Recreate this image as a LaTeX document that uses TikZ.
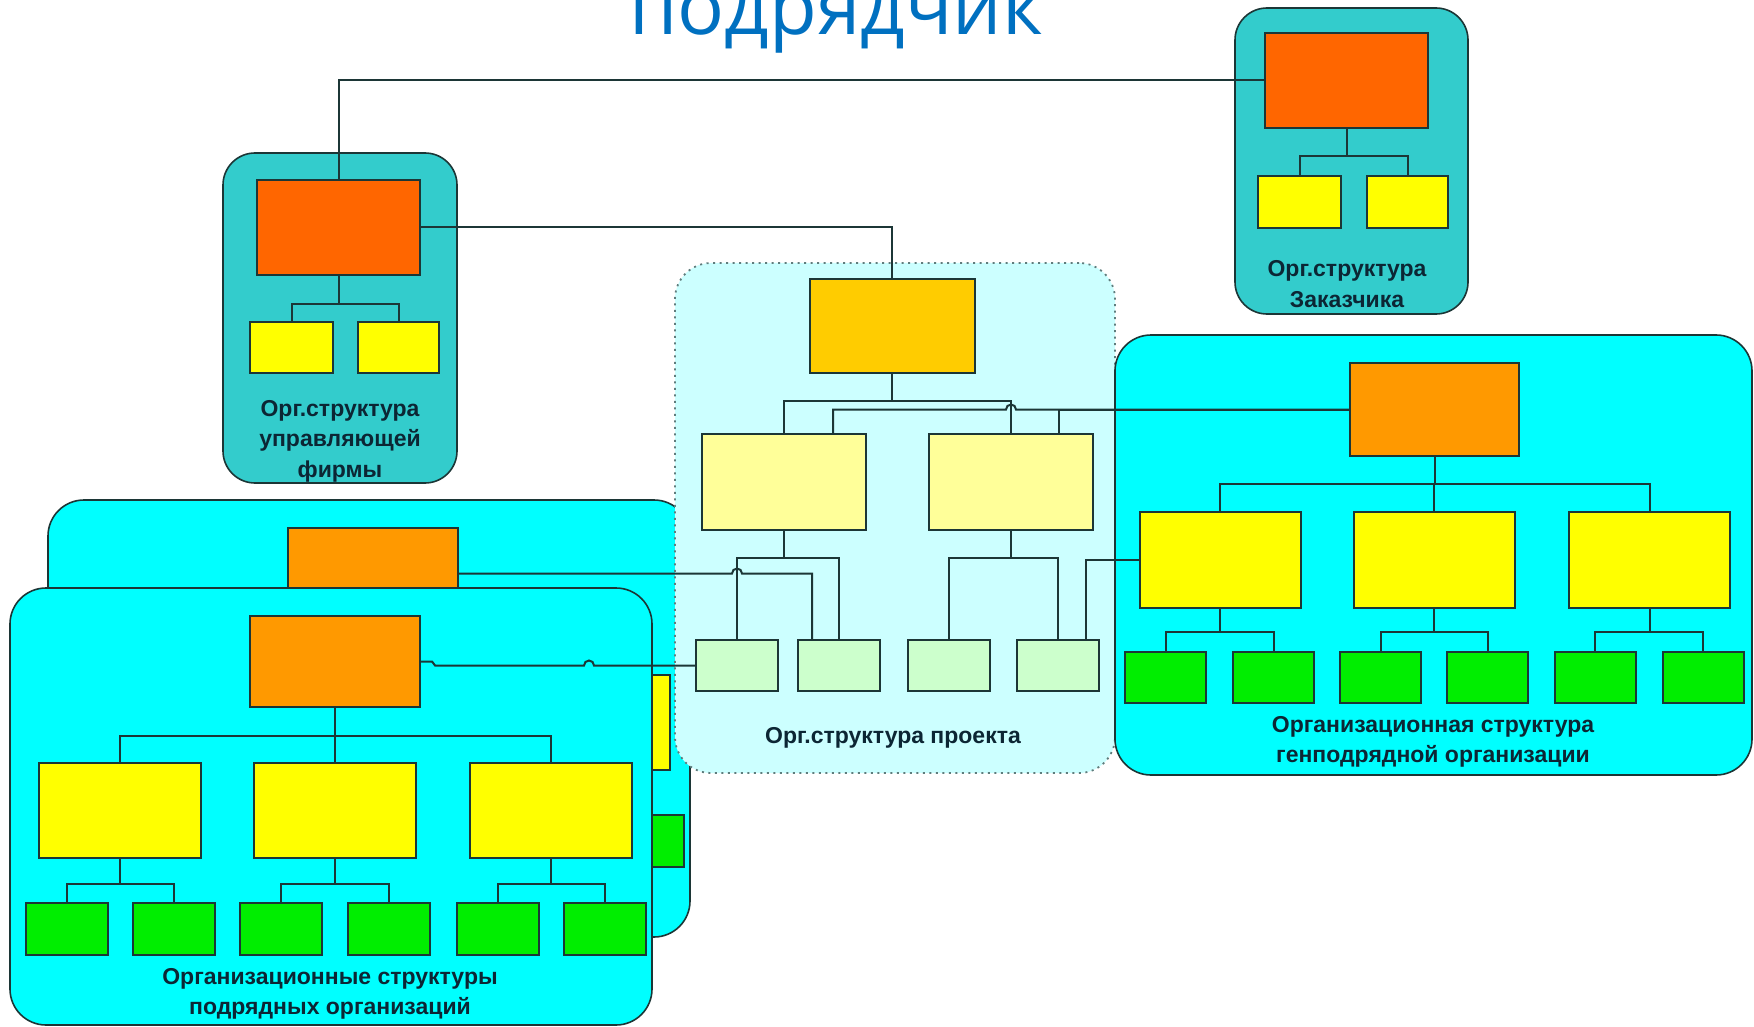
\documentclass[tikz,border=0pt]{standalone}
\usepackage{fontspec}
\setmainfont{Liberation Sans}
\newfontfamily\titlefont{Open Sans}
\usetikzlibrary{calc}

\definecolor{wire}{HTML}{1C3636}
\definecolor{ink}{HTML}{0C2634}
\definecolor{headline}{HTML}{0070C0}
\definecolor{tealbg}{HTML}{33CCCC}
\definecolor{cyanbg}{HTML}{00FFFF}
\definecolor{projbg}{HTML}{CCFFFF}
\definecolor{dots}{HTML}{5F7C7C}
\definecolor{redorg}{HTML}{FF6600}
\definecolor{orng}{HTML}{FF9900}
\definecolor{gold}{HTML}{FFCC00}
\definecolor{yell}{HTML}{FFFF00}
\definecolor{ltyell}{HTML}{FFFF99}
\definecolor{grn}{HTML}{00EE00}
\definecolor{ltgrn}{HTML}{CCFFCC}

\begin{document}
\begin{tikzpicture}[x=1pt,y=-1pt,line width=2pt,
  box/.style={draw=wire,line width=2pt,inner sep=0pt},
  head/.style={box,minimum width=166pt,minimum height=93pt},
  mid/.style={box,minimum width=162pt,minimum height=96pt},
  leaf/.style={box,minimum width=82pt,minimum height=52pt},
  grp/.style={draw=wire,line width=1.6pt,inner sep=0pt,rounded corners=32pt},
  lbl/.style={text=ink,align=center,font=\bfseries\fontsize{23}{30.5}\selectfont},
  tree/.style={draw=wire,to path={-- ++(0,#1) -| (\tikztotarget)}},
  tree/.default=27]

  \fill[white] (0,0) rectangle (1754,1027);
  \useasboundingbox (0,0) rectangle (1754,1027);

  \node[anchor=base,text=headline,font=\titlefont\fontsize{78}{78}\selectfont] (ttl) at (836,35) {подрядчик};

  \node[grp,fill=cyanbg,minimum width=642pt,minimum height=437pt,rounded corners=36pt] (b) at (369,718.5) {};
  \node[head,fill=orng,minimum width=170pt,minimum height=91pt] (b0) at (373,573.5) {};
  \node[mid,fill=yell,minimum height=95pt] (b3) at (589,722.5) {};
  \node[leaf,fill=grn] (b6) at (643,841) {};

  \node[grp,fill=cyanbg,minimum width=642pt,minimum height=437pt,rounded corners=36pt] (f) at (331,806.5) {};
  \node[head,fill=orng,minimum width=170pt,minimum height=91pt] (f0) at (335,661.5) {};
  \node[mid,fill=yell,minimum height=95pt] (f1) at (120,810.5) {};
  \node[mid,fill=yell,minimum height=95pt] (f2) at (335,810.5) {};
  \node[mid,fill=yell,minimum height=95pt] (f3) at (551,810.5) {};
  \node[leaf,fill=grn] (f11) at (66.5,929) {};
  \node[leaf,fill=grn] (f12) at (174,929) {};
  \node[leaf,fill=grn] (f21) at (281,929) {};
  \node[leaf,fill=grn] (f22) at (388.5,929) {};
  \node[leaf,fill=grn] (f31) at (498,929) {};
  \node[leaf,fill=grn] (f32) at (605,929) {};
  \node[lbl] (fl) at (330,994) {Организационные структуры\\подрядных организаций};

  \path (f0.south) edge[tree=28] (f1.north) edge[tree=28] (f2.north) edge[tree=28] (f3.north)
    (f1.south) edge[tree=25] (f11.north) edge[tree=25] (f12.north)
    (f2.south) edge[tree=25] (f21.north) edge[tree=25] (f22.north)
    (f3.south) edge[tree=25] (f31.north) edge[tree=25] (f32.north);

  \node[grp,fill=projbg,draw=dots,line width=1.8pt,dash pattern=on 2pt off 4.5pt,minimum width=440pt,minimum height=510pt,rounded corners=36pt] (p) at (895,518) {};
  \node[head,fill=gold,minimum width=165pt,minimum height=94pt] (p0) at (892,326) {};
  \node[mid,fill=ltyell,minimum width=164pt] (p1) at (784,482) {};
  \node[mid,fill=ltyell,minimum width=164pt] (p2) at (1011,482) {};
  \node[leaf,fill=ltgrn,minimum height=51pt] (p11) at (737,665.5) {};
  \node[leaf,fill=ltgrn,minimum height=51pt] (p12) at (839,665.5) {};
  \node[leaf,fill=ltgrn,minimum height=51pt] (p21) at (949,665.5) {};
  \node[leaf,fill=ltgrn,minimum height=51pt] (p22) at (1058,665.5) {};
  \node[lbl] (pl) at (893,738) {Орг.структура проекта};

  \path (p0.south) edge[tree] (p1.north) edge[tree] (p2.north)
    (p1.south) edge[tree] (p11.north) edge[tree] (p12.north)
    (p2.south) edge[tree] (p21.north) edge[tree] (p22.north);

  \node[grp,fill=cyanbg,minimum width=637pt,minimum height=440pt,rounded corners=36pt] (g) at (1433.5,555) {};
  \node[head,fill=orng,minimum width=169pt] (g0) at (1434.5,409.5) {};
  \node[mid,fill=yell,minimum width=161pt] (g1) at (1220,560) {};
  \node[mid,fill=yell,minimum width=161pt] (g2) at (1434,560) {};
  \node[mid,fill=yell,minimum width=161pt] (g3) at (1649.5,560) {};
  \node[leaf,fill=grn,minimum width=81pt,minimum height=51pt] (g11) at (1165.5,677.5) {};
  \node[leaf,fill=grn,minimum width=81pt,minimum height=51pt] (g12) at (1273.5,677.5) {};
  \node[leaf,fill=grn,minimum width=81pt,minimum height=51pt] (g21) at (1380.5,677.5) {};
  \node[leaf,fill=grn,minimum width=81pt,minimum height=51pt] (g22) at (1487.5,677.5) {};
  \node[leaf,fill=grn,minimum width=81pt,minimum height=51pt] (g31) at (1595,677.5) {};
  \node[leaf,fill=grn,minimum width=81pt,minimum height=51pt] (g32) at (1703,677.5) {};
  \node[lbl] (gl) at (1433,742) {Организационная структура\\генподрядной организации};

  \path (g0.south) edge[tree] (g1.north) edge[tree] (g2.north) edge[tree] (g3.north)
    (g1.south) edge[tree=23] (g11.north) edge[tree=23] (g12.north)
    (g2.south) edge[tree=23] (g21.north) edge[tree=23] (g22.north)
    (g3.south) edge[tree=23] (g31.north) edge[tree=23] (g32.north);

  \node[grp,fill=tealbg,minimum width=233pt,minimum height=306pt] (c) at (1351.5,161) {};
  \node[head,fill=redorg,minimum width=163pt,minimum height=95pt] (c0) at (1346.5,80.5) {};
  \node[leaf,fill=yell,minimum width=83pt] (c1) at (1299.5,202) {};
  \node[leaf,fill=yell,minimum width=81pt] (c2) at (1407.5,202) {};
  \node[lbl] (cl) at (1347,284) {Орг.структура\\Заказчика};

  \path (c0.south) edge[tree] (c1.north) edge[tree] (c2.north);

  \node[grp,fill=tealbg,minimum width=234pt,minimum height=330pt] (m) at (340,318) {};
  \node[head,fill=redorg,minimum width=163pt,minimum height=95pt] (m0) at (338.5,227.5) {};
  \node[leaf,fill=yell,minimum width=83pt,minimum height=51pt] (m1) at (291.5,347.5) {};
  \node[leaf,fill=yell,minimum width=81pt,minimum height=51pt] (m2) at (398.5,347.5) {};
  \node[lbl] (ml) at (340,441) {Орг.структура\\управляющей\\фирмы};

  \path (m0.south) edge[tree=28] (m1.north) edge[tree=28] (m2.north);

  \draw[wire] (m0.north) |- (c0.west);
  \draw[wire] (m0.east) -| (p0.north);
  \draw[wire] (g0.west) -| ([xshift=48pt]p2.north);
  \draw[wire] (g0.west) -- ($(p2.north |- g0.west)+(5,0)$) arc (0:-180:5) -| ([xshift=49pt]p1.north);
  \draw[wire] (g1.west) -| ([xshift=28pt]p22.north);
  \draw[wire] (b0.east) -- ($(p11.north |- b0.east)+(-5,0)$) arc (180:360:5) -| ([xshift=-27pt]p12.north);
  \draw[wire] (f0.east) -- ++(11,0) -- ++(3,4) -- ($(f0.east)+(163,4)$) arc (180:360:5) -- (p11.west);
\end{tikzpicture}
\end{document}
